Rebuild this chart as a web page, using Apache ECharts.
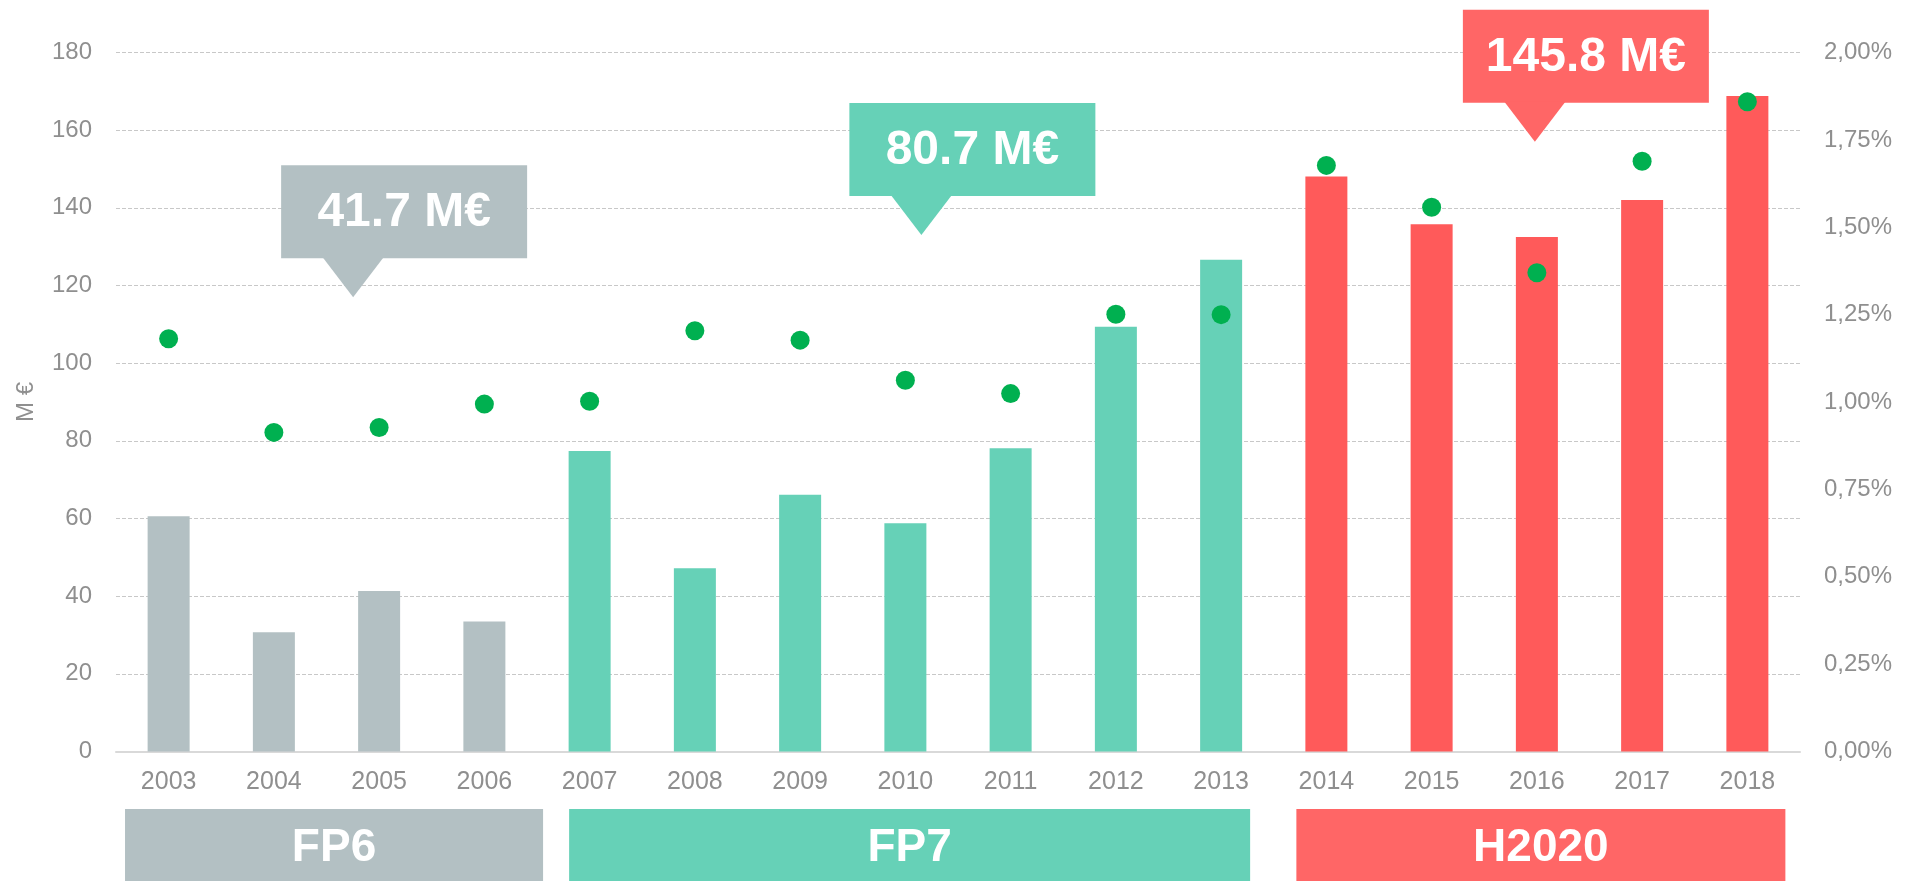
<!DOCTYPE html>
<html>
<head>
<meta charset="utf-8">
<script src="https://cdn.jsdelivr.net/npm/echarts@6/dist/echarts.min.js"></script>
<style>
html,body{margin:0;padding:0;background:#fff;}
#chart{width:1921px;height:881px;}
</style>
</head>
<body>
<div id="chart"></div>
<script>
// 数据
var years = ['2003','2004','2005','2006','2007','2008','2009','2010','2011','2012','2013','2014','2015','2016','2017','2018'];
var funding = [60.6, 30.7, 41.3, 33.5, 77.4, 47.2, 66.1, 58.8, 78.1, 109.4, 126.6, 148.1, 135.8, 132.5, 142.0, 168.8];
var share = [1.181, 0.913, 0.927, 0.994, 1.002, 1.204, 1.177, 1.062, 1.024, 1.251, 1.25, 1.677, 1.557, 1.37, 1.689, 1.859];
var programmes = ['FP6', 'FP7', 'H2020'];
var programmeFirst = ['2003', '2007', '2014'];
var programmeLast = ['2006', '2013', '2018'];
var averages = ['41.7 M€', '80.7 M€', '145.8 M€'];
var calloutYears = ['2005', '2010', '2016'];
var calloutTips = [117, 133, 157];

// 样式
var progColors = ['#b3c0c3', '#66d1b7', '#ff5a5a'];
var bandColors = ['#b3c0c3', '#66d1b7', '#ff6666'];
var calloutShift = [-26, 16, -2];
var bandPad = [[43.6, 58.7], [20.5, 29], [30, 38]];
var labelColor = '#8f8f8f';
var font = 'Liberation Sans';

function progOf(y) {
  for (var i = 0; i < programmes.length; i++) {
    if (y >= programmeFirst[i] && y <= programmeLast[i]) return i;
  }
  return 0;
}

var barData = funding.map(function (v, i) {
  return { value: v, itemStyle: { color: progColors[progOf(years[i])] } };
});

var dom = document.getElementById('chart');
var myChart = echarts.init(dom);

var option = {
  animation: false,
  backgroundColor: '#fff',
  textStyle: { fontFamily: font },
  grid: { left: 116, right: 121, top: 52.5, bottom: 129.5 },
  xAxis: {
    type: 'category',
    data: years,
    axisLine: { lineStyle: { color: '#d9d9d9', width: 2 } },
    axisTick: { show: false },
    axisLabel: { color: labelColor, fontSize: 25, margin: 18, fontFamily: font }
  },
  yAxis: [
    {
      type: 'value',
      min: 0, max: 180, interval: 20,
      name: 'M €',
      nameLocation: 'middle',
      nameGap: 78,
      nameTextStyle: { color: labelColor, fontSize: 24, fontFamily: font },
      axisLine: { show: false },
      axisTick: { show: false },
      axisLabel: { color: labelColor, fontSize: 24, margin: 24, fontFamily: font },
      splitLine: { lineStyle: { color: '#c8c8c8', type: [4, 2], width: 1 } }
    },
    {
      type: 'value',
      min: 0, max: 2, interval: 0.25,
      position: 'right',
      axisLine: { show: false },
      axisTick: { show: false },
      splitLine: { show: false },
      axisLabel: {
        color: labelColor, fontSize: 24, margin: 24, fontFamily: font,
        formatter: function (v) { return v.toFixed(2).replace('.', ',') + '%'; }
      }
    }
  ],
  series: [
    {
      type: 'bar',
      data: barData,
      barWidth: 42,
      z: 2
    },
    {
      type: 'scatter',
      yAxisIndex: 1,
      data: share,
      symbolSize: 19,
      itemStyle: { color: '#00b050', opacity: 1 },
      z: 5
    }
  ]
};

myChart.setOption(option);

// 标注框 + 底部色带
var graphics = [];
for (var i = 0; i < programmes.length; i++) {
  var tip = myChart.convertToPixel({ xAxisIndex: 0, yAxisIndex: 0 }, [calloutYears[i], calloutTips[i]]);
  var tx = tip[0] + calloutShift[i], ty = tip[1];
  var boxW = 246, boxH = 93, triW = 61, triH = 39, tipFromLeft = 72;
  var bx = tx - tipFromLeft, by = ty - triH - boxH;
  graphics.push({
    type: 'group',
    z: 10,
    children: [
      { type: 'rect', shape: { x: bx, y: by, width: boxW, height: boxH }, style: { fill: bandColors[i] } },
      { type: 'polygon', shape: { points: [[tx - triW / 2, by + boxH - 1], [tx + triW / 2, by + boxH - 1], [tx, ty]] }, style: { fill: bandColors[i] } },
      { type: 'text', x: bx + boxW / 2, y: by + boxH / 2 + 1, style: { text: averages[i], fill: '#fff', font: 'bold 48px "Liberation Sans"', align: 'center', verticalAlign: 'middle' } }
    ]
  });

  var x0 = myChart.convertToPixel({ xAxisIndex: 0 }, programmeFirst[i]) - bandPad[i][0];
  var x1 = myChart.convertToPixel({ xAxisIndex: 0 }, programmeLast[i]) + bandPad[i][1];
  graphics.push({
    type: 'group',
    z: 10,
    children: [
      { type: 'rect', shape: { x: x0, y: 809, width: x1 - x0, height: 72 }, style: { fill: bandColors[i] } },
      { type: 'text', x: (x0 + x1) / 2, y: 848, style: { text: programmes[i], fill: '#fff', font: 'bold 46px "Liberation Sans"', align: 'center', verticalAlign: 'middle' } }
    ]
  });
}
myChart.setOption({ graphic: graphics });
</script>
</body>
</html>
